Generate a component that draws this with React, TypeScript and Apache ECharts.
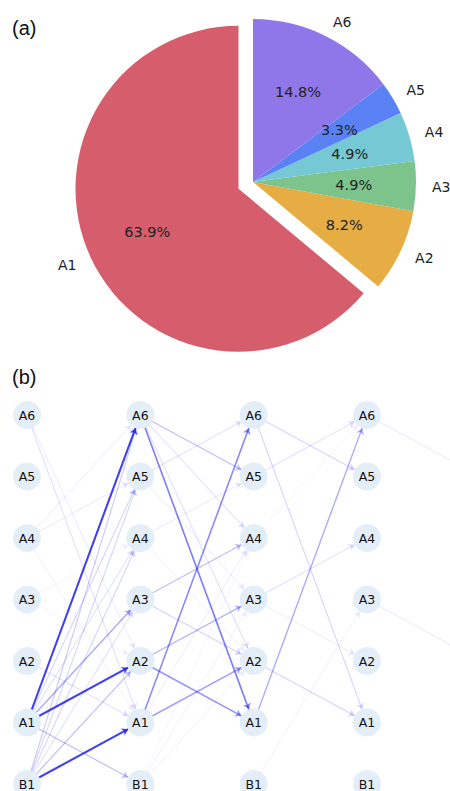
import React, { useEffect, useRef } from "react";
import * as echarts from "echarts";

// ---------- Panel (a): pie ----------
const pieNames = ["A1", "A2", "A3", "A4", "A5", "A6"];
const pieValues = [39, 5, 3, 3, 2, 9];
const pieColors = ["#d65e6c", "#e6ad45", "#7dc38c", "#76c8d4", "#5a82f5", "#8f76e9"];

// ---------- Panel (b): layered network ----------
const rowNames = ["B1", "A1", "A2", "A3", "A4", "A5", "A6"]; // bottom -> top
const columnCount = 5; // the fifth column lies beyond the right edge
const visibleColumns = 4;

// links between column i and column i+1: [source, target, weight]
const layer0Links: [string, string, number][] = [
  ["A1", "A6", 0.9],
  ["A1", "A2", 0.9],
  ["B1", "A1", 0.9],
  ["A1", "A3", 0.4],
  ["A1", "B1", 0.3],
  ["A1", "A5", 0.2],
  ["A1", "A4", 0.15],
  ["B1", "A6", 0.25],
  ["B1", "A5", 0.2],
  ["B1", "A4", 0.2],
  ["B1", "A3", 0.15],
  ["B1", "A2", 0.3],
  ["A2", "A1", 0.15],
  ["A4", "A6", 0.1],
  ["A4", "A5", 0.12],
  ["A4", "A1", 0.08],
  ["A6", "A1", 0.15],
  ["A6", "A2", 0.1],
  ["A3", "A2", 0.06],
  ["A3", "A4", 0.06],
];
const layer1Links: [string, string, number][] = [
  ["A6", "A1", 0.6],
  ["A6", "A5", 0.3],
  ["A6", "A4", 0.15],
  ["A6", "A2", 0.15],
  ["A5", "A6", 0.15],
  ["A5", "A3", 0.1],
  ["A4", "A5", 0.12],
  ["A4", "A2", 0.08],
  ["A3", "A4", 0.3],
  ["A3", "A2", 0.2],
  ["A2", "A3", 0.35],
  ["A2", "A1", 0.5],
  ["A1", "A6", 0.55],
  ["A1", "A2", 0.45],
  ["A1", "A4", 0.1],
  ["B1", "A3", 0.08],
  ["B1", "A2", 0.08],
  ["B1", "A4", 0.06],
];
const layer2Links: [string, string, number][] = [
  ["A1", "A6", 0.4],
  ["A6", "A5", 0.2],
  ["A5", "A6", 0.15],
  ["A6", "A1", 0.2],
  ["A2", "A1", 0.2],
  ["A3", "A2", 0.1],
  ["A3", "A4", 0.15],
  ["A4", "A6", 0.06],
  ["B1", "A3", 0.08],
];
const layer3Links: [string, string, number][] = [
  ["A6", "A5", 0.12],
  ["A3", "A2", 0.12],
];
const layers = [layer0Links, layer1Links, layer2Links, layer3Links];

export default function App() {
  const ref = useRef<HTMLDivElement>(null);
  useEffect(() => {
    if (!ref.current) return;
    const chart = echarts.init(ref.current, undefined, { renderer: "svg" });
    const total = pieValues.reduce((a, b) => a + b, 0);
    const labelFont = "DejaVu Sans";

    const nodes: any[] = [];
    for (let c = 0; c < columnCount; c++) {
      const hidden = c >= visibleColumns;
      rowNames.forEach((r, i) => {
        nodes.push({
          name: `${c}-${r}`,
          value: [c, i],
          itemStyle: hidden ? { opacity: 0 } : undefined,
          label: hidden ? { show: false } : undefined,
        });
      });
    }
    const links: any[] = [];
    layers.forEach((layer, c) => {
      layer.forEach(([s, t, w]) => {
        links.push({
          source: `${c}-${s}`,
          target: `${c + 1}-${t}`,
          lineStyle: { opacity: w, width: 0.8 + 1.4 * w },
        });
      });
    });

    const pieCenter = [253, 182];
    const pieRadius = 163;

    chart.setOption({
      animation: false,
      graphic: [
        {
          type: "text",
          left: 12,
          top: 18,
          style: { text: "(a)", font: "20px 'Liberation Sans'", fill: "#111" },
        },
        {
          type: "text",
          left: 12,
          top: 367,
          style: { text: "(b)", font: "20px 'Liberation Sans'", fill: "#111" },
        },
      ],
      grid: { left: 27, right: 83, top: 415, bottom: 7, containLabel: false },
      xAxis: { type: "value", min: 0, max: 3, show: false },
      yAxis: { type: "value", min: 0, max: 6, show: false },
      series: [
        {
          type: "pie",
          center: pieCenter,
          radius: pieRadius,
          startAngle: 90,
          clockwise: false,
          selectedMode: "single",
          selectedOffset: 16,
          avoidLabelOverlap: false,
          silent: true,
          label: {
            show: true,
            position: "outside",
            formatter: "{b}",
            fontSize: 14,
            fontFamily: labelFont,
            color: "#222",
            distanceToLabelLine: 0,
          },
          labelLine: { show: false, length: 16, length2: 0 },
          itemStyle: { borderWidth: 0 },
          data: pieNames.map((n, i) => ({
            name: n,
            value: pieValues[i],
            selected: i === 0,
            itemStyle: { color: pieColors[i] },
            select: { itemStyle: { color: pieColors[i], borderWidth: 0 } },
          })),
        },
        {
          type: "pie",
          center: pieCenter,
          radius: pieRadius * 1.2,
          startAngle: 90,
          clockwise: false,
          selectedMode: "single",
          selectedOffset: 16,
          avoidLabelOverlap: false,
          silent: true,
          z: 3,
          label: {
            show: true,
            position: "inside",
            formatter: (p: any) => ((p.value / total) * 100).toFixed(1) + "%",
            fontSize: 14.5,
            fontFamily: labelFont,
            color: "#222",
          },
          labelLine: { show: false },
          itemStyle: { color: "rgba(0,0,0,0)", borderWidth: 0 },
          data: pieNames.map((n, i) => ({
            name: n,
            value: pieValues[i],
            selected: i === 0,
            select: { itemStyle: { color: "rgba(0,0,0,0)", borderWidth: 0 } },
          })),
        },
        {
          type: "graph",
          coordinateSystem: "cartesian2d",
          xAxisIndex: 0,
          yAxisIndex: 0,
          silent: true,
          symbol: "circle",
          symbolSize: 28,
          itemStyle: { color: "#e3eef9" },
          label: {
            show: true,
            position: "inside",
            formatter: (p: any) => String(p.name).split("-")[1],
            fontSize: 12.5,
            fontFamily: labelFont,
            color: "#111",
          },
          edgeSymbol: ["none", "arrow"],
          edgeSymbolSize: [0, 6],
          lineStyle: { color: "#2a2af0", curveness: 0 },
          data: nodes,
          links: links,
        },
      ],
    });
    return () => chart.dispose();
  }, []);
  return (
    <div
      ref={ref}
      style={{ position: "absolute", left: 0, top: 0, width: 450, height: 791, background: "#fff" }}
    />
  );
}
